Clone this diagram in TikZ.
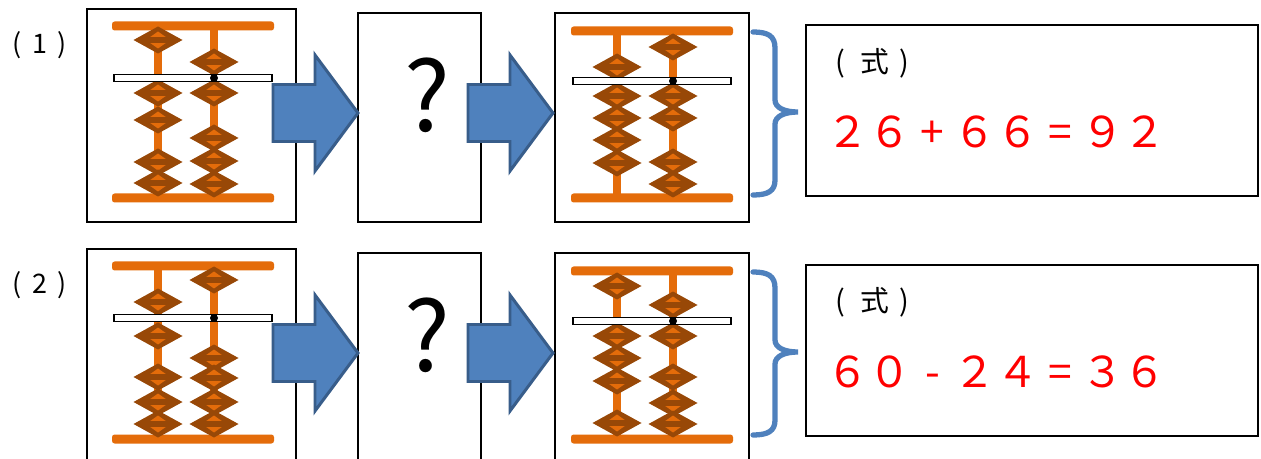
\documentclass[tikz,border=0pt]{standalone}
\usepackage{fontspec}
\setmainfont{Noto Sans CJK JP}
\definecolor{barorange}{RGB}{228,108,10}
\definecolor{beadbrown}{RGB}{152,72,7}
\definecolor{arrowblue}{RGB}{79,129,189}
\definecolor{arrowedge}{RGB}{56,93,138}
\tikzset{
	framebox/.style={draw, line width=0.8pt, inner sep=0pt},
	rod/.style={barorange, line width=5.1pt},
	bar/.style={fill=barorange, rounded corners=1.5pt},
	beam/.style={draw=black, fill=white, line width=0.6pt},
	bracecurve/.style={arrowblue, line width=3pt, line cap=round},
	rowlabel/.style={inner sep=0pt, anchor=west, font=\fontsize{15.3pt}{15.3pt}\selectfont},
	header/.style={inner sep=0pt, anchor=west, font=\fontsize{16.4pt}{16.4pt}\selectfont},
	formula/.style={red, inner sep=0pt, anchor=west, font=\fontsize{24.2pt}{24.2pt}\selectfont},
	question/.style={inner sep=0pt, font=\fontsize{55pt}{55pt}\selectfont},
	pics/bead/.style={code={
		\fill[beadbrown] (-24.5,0)--(0,13.5)--(24.5,0)--(0,-13.5)--cycle;
		\fill[barorange] (-12,0)--(0,8.5)--(12,0)--(0,-8.5)--cycle;
		\fill[beadbrown] (-13,-2.6) rectangle (13,2.6);
	}},
	pics/blockarrow/.style={code={
		\draw[fill=arrowblue, draw=arrowedge, line width=1.7pt, line join=miter] (-85,-28.5)--(-43,-28.5)--(-43,-58)--(0,0)--(-43,58)--(-43,28.5)--(-85,28.5)--cycle;
	}},
	pics/curlybrace/.style={code={
		\draw[bracecurve] (0,0) .. controls (15,0) and (22,4) .. (22,16) -- (22,68) .. controls (22,76) and (32,80) .. (45,80) .. controls (32,80) and (22,84) .. (22,92) -- (22,148) .. controls (22,159) and (15,163) .. (0,163);
	}}
}
\newcommand{\abacus}[4]{
	\draw[rod] (46,0)--(46,#2);
	\draw[rod] (102,0)--(102,#2);
	\fill[bar] (0,-4.5) rectangle (162,4.5);
	\fill[bar] (0,#2-4.5) rectangle (162,#2+4.5);
	\foreach \y in {#3} \pic at (46,\y) {bead};
	\foreach \y in {#4} \pic at (102,\y) {bead};
	\draw[beam] (2,#1-3.5) rectangle (160,#1+3.5);
	\fill (102,#1) circle (4);
}
\newcommand{\slot}[2][1em]{\makebox[#1]{#2}}
\begin{document}
\begin{tikzpicture}[x=0.02cm, y=-0.02cm]
	\clip (0,0) rectangle (1261,459);
	\fill[white] (0,0) rectangle (1261,459);

	\node[rowlabel] (num1) at (6,45) {\slot[0.83em]{(}\slot[0.83em]{1}\slot[0.83em]{)}};
	\node[framebox, minimum width=4.18cm, minimum height=4.26cm] (start1) at (191.5,115.5) {};
	\node[framebox, minimum width=2.46cm, minimum height=4.18cm] (mystery1) at (419.5,117.5) {};
	\node[framebox, minimum width=3.88cm, minimum height=4.18cm] (result1) at (652,117.5) {};
	\node[framebox, minimum width=9.04cm, minimum height=3.42cm] (eqbox1) at (1032,110.5) {};
	\begin{scope}[shift={(112,26)}]
		\abacus{52}{172}{14,67,94,136,157}{36,67,112,135,158}
	\end{scope}
	\begin{scope}[shift={(571,31)}]
		\abacus{50}{167}{36,65,87,109,132}{16,65,87,131,153}
	\end{scope}
	\pic at (358,113) {blockarrow};
	\pic at (553,113) {blockarrow};
	\node[question] (q1) at (427,95) {?};
	\pic at (753,32) {curlybrace};
	\node[header] (shiki1) at (820,63) {\slot[1.4em]{(}式\slot[1.05em]{)}};
	\node[formula] (ans1) at (826,132) {２６\slot{+}６６\slot{=}９２};

	\node[rowlabel] (num2) at (6,285) {\slot[0.83em]{(}\slot[0.83em]{2}\slot[0.83em]{)}};
	\node[framebox, minimum width=4.18cm, minimum height=4.26cm] (start2) at (191.5,355.5) {};
	\node[framebox, minimum width=2.46cm, minimum height=4.18cm] (mystery2) at (419.5,357.5) {};
	\node[framebox, minimum width=3.88cm, minimum height=4.18cm] (result2) at (652,357.5) {};
	\node[framebox, minimum width=9.04cm, minimum height=3.42cm] (eqbox2) at (1032,350.5) {};
	\begin{scope}[shift={(112,266)}]
		\abacus{52}{173}{36,70,111,136,158}{14,92,112,136,158}
	\end{scope}
	\begin{scope}[shift={(571,271)}]
		\abacus{50}{168}{15,65,87,110,152}{34,65,106,132,153}
	\end{scope}
	\pic at (358,353) {blockarrow};
	\pic at (553,353) {blockarrow};
	\node[question] (q2) at (427,335) {?};
	\pic at (753,272) {curlybrace};
	\node[header] (shiki2) at (820,302) {\slot[1.4em]{(}式\slot[1.05em]{)}};
	\node[formula] (ans2) at (826,372) {６０\slot{-}２４\slot{=}３６};
\end{tikzpicture}
\end{document}
